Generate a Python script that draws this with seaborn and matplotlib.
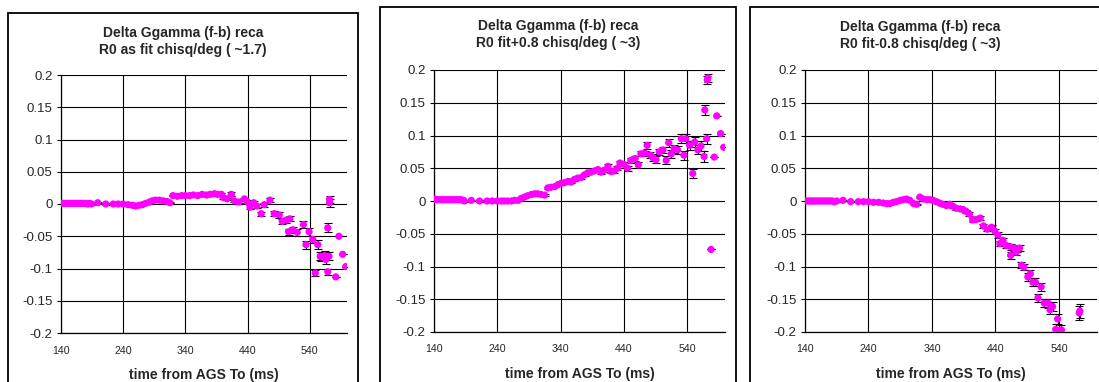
import matplotlib
matplotlib.use("Agg")
import matplotlib.pyplot as plt
from matplotlib.patches import Rectangle
import seaborn as sns

# ---------------- data ----------------
titles = ["Delta Ggamma (f-b) reca\nR0 as fit chisq/deg ( ~1.7)",
          "Delta Ggamma (f-b) reca\nR0 fit+0.8 chisq/deg ( ~3)",
          "Delta Ggamma (f-b) reca\nR0 fit-0.8 chisq/deg ( ~3)"]
xlabel = "time from AGS To (ms)"
xticks = [140, 240, 340, 440, 540]
yticks = [-0.2, -0.15, -0.1, -0.05, 0, 0.05, 0.1, 0.15, 0.2]
ytick_labels = ["-0.2", "-0.15", "-0.1", "-0.05", "0", "0.05", "0.1", "0.15", "0.2"]

x1 = [141, 144, 147, 150, 153, 156, 159, 162, 165, 168, 171, 174, 177, 180, 183, 186, 189,
      199, 212, 224, 232, 240, 248, 255, 260, 266, 271, 276, 282, 287, 292, 298, 304, 310, 315,
      320, 327, 334, 340, 347, 353, 360, 367, 374, 380, 387, 392, 398, 401, 407, 414, 419, 426,
      435, 439, 444, 450, 455, 462, 467, 476, 483, 491, 496, 502, 508, 506, 513, 520, 530, 534,
      539, 545, 553, 558, 564, 569, 572, 572, 587, 593,
      549, 557, 569, 571, 566, 582, 598]
y1 = [0.001, 0.001, 0.001, 0.001, 0.001, 0.001, 0.001, 0.001, 0.001, 0.001, 0.001, 0.001, 0.001, 0.001, 0.000, 0.001, 0.000,
      0.002, 0.000, 0.000, 0.000, 0.000, -0.001, -0.002, -0.003, -0.002, -0.001, 0.001, 0.003, 0.005, 0.006, 0.006, 0.005, 0.004, 0.002,
      0.013, 0.012, 0.013, 0.013, 0.013, 0.014, 0.013, 0.015, 0.014, 0.015, 0.016, 0.015, 0.015, 0.010, 0.008, 0.015, 0.005, 0.003,
      0.008, 0.004, -0.005, 0.002, -0.003, -0.015, -0.001, 0.006, -0.015, -0.017, -0.027, -0.025, -0.023, -0.043, -0.040, -0.044, -0.032, -0.063,
      -0.043, -0.055, -0.063, -0.082, -0.080, -0.037, 0.007, 0.002, -0.050, -0.078,
      -0.107, -0.081, -0.105, -0.081, -0.086, -0.113, -0.097]
e1 = [0.001, 0.001, 0.001, 0.001, 0.001, 0.001, 0.001, 0.001, 0.001, 0.001, 0.001, 0.001, 0.001, 0.001, 0.001, 0.001, 0.001,
      0.001, 0.001, 0.001, 0.001, 0.001, 0.001, 0.001, 0.001, 0.001, 0.001, 0.001, 0.001, 0.001, 0.001, 0.001, 0.001, 0.001, 0.001,
      0.001, 0.001, 0.001, 0.001, 0.001, 0.001, 0.001, 0.002, 0.002, 0.002, 0.002, 0.002, 0.002, 0.002, 0.002, 0.003, 0.002, 0.002,
      0.002, 0.002, 0.003, 0.003, 0.003, 0.003, 0.003, 0.003, 0.004, 0.004, 0.004, 0.004, 0.004, 0.005, 0.005, 0.005, 0.005, 0.006,
      0.006, 0.006, 0.007, 0.007, 0.007, 0.007, 0.006, 0.006, 0.000, 0.000,
      0.005, 0.006, 0.005, 0.006, 0.007, 0.000, 0.000]

x2 = [141, 144, 147, 150, 153, 156, 159, 162, 165, 168, 171, 174, 177, 180, 183, 186, 188,
      199, 212, 224, 232, 240, 246, 251, 256, 262, 267, 273, 278, 283, 288, 294, 299, 304, 309, 315,
      320, 325, 331, 336, 341, 346, 352, 357, 362, 367, 373, 378, 383, 388, 394, 399, 404, 409, 415,
      420, 425, 430, 434, 440, 446, 451, 458, 463, 467, 473, 477, 482, 486, 491, 496, 502, 507, 511,
      515, 520, 525, 531, 535, 538, 544, 549, 552, 557, 562, 567, 571, 578, 583, 593, 598,
      572, 573, 568, 587]
y2 = [0.003, 0.002, 0.002, 0.002, 0.002, 0.002, 0.002, 0.002, 0.002, 0.002, 0.002, 0.002, 0.002, 0.002, 0.002, 0.001, 0.000,
      0.001, 0.000, 0.000, 0.000, 0.000, 0.000, 0.000, 0.000, 0.000, 0.001, 0.001, 0.004, 0.006, 0.008, 0.010, 0.011, 0.011, 0.010, 0.009,
      0.020, 0.021, 0.022, 0.025, 0.027, 0.028, 0.030, 0.029, 0.033, 0.035, 0.036, 0.040, 0.043, 0.044, 0.046, 0.048, 0.044, 0.047, 0.053,
      0.045, 0.046, 0.050, 0.058, 0.056, 0.050, 0.062, 0.065, 0.055, 0.072, 0.073, 0.085, 0.070, 0.066, 0.063, 0.075, 0.078, 0.062, 0.089,
      0.072, 0.080, 0.078, 0.095, 0.070, 0.095, 0.085, 0.042, 0.090, 0.078, 0.084, 0.068, 0.095, -0.074, 0.067, 0.103, 0.082,
      0.185, 0.188, 0.139, 0.130]
e2 = [0.001, 0.001, 0.001, 0.001, 0.001, 0.001, 0.001, 0.001, 0.001, 0.001, 0.001, 0.001, 0.001, 0.001, 0.001, 0.001, 0.001,
      0.001, 0.001, 0.001, 0.001, 0.001, 0.001, 0.001, 0.001, 0.001, 0.001, 0.001, 0.001, 0.001, 0.001, 0.001, 0.001, 0.001, 0.001, 0.001,
      0.001, 0.001, 0.001, 0.001, 0.002, 0.002, 0.002, 0.002, 0.002, 0.002, 0.002, 0.002, 0.002, 0.002, 0.002, 0.003, 0.003, 0.003, 0.003,
      0.003, 0.003, 0.003, 0.003, 0.003, 0.004, 0.004, 0.004, 0.004, 0.004, 0.004, 0.005, 0.005, 0.005, 0.005, 0.005, 0.005, 0.006, 0.006,
      0.006, 0.006, 0.006, 0.007, 0.007, 0.007, 0.007, 0.007, 0.007, 0.007, 0.008, 0.008, 0.008, 0.000, 0.000, 0.000, 0.000,
      0.006, 0.006, 0.007, 0.000]

x3 = [141, 144, 147, 150, 153, 156, 159, 162, 165, 168, 171, 174, 177, 180, 183, 186, 190,
      200, 212, 224, 232, 240, 248, 256, 263, 269, 274, 279, 284, 290, 295, 300, 305, 311, 316,
      321, 326, 332, 337, 342, 347, 352, 357, 363, 368, 373, 378, 384, 389, 394, 399, 404, 410,
      416, 421, 427, 434, 439, 444, 447, 452, 457, 464, 469, 474, 478, 464, 473, 481, 485, 491,
      495, 499, 503, 512, 507, 517, 523, 526, 530, 538, 535, 544, 572, 573]
y3 = [0.000, 0.000, 0.000, 0.000, 0.000, 0.000, 0.000, 0.000, 0.000, 0.000, 0.000, 0.000, 0.000, 0.000, 0.000, -0.001, 0.000,
      0.001, -0.001, -0.001, -0.001, -0.001, -0.002, -0.002, -0.003, -0.004, -0.004, -0.002, -0.001, 0.001, 0.002, 0.003, 0.001, -0.004, -0.005,
      0.006, 0.003, 0.002, 0.002, 0.001, -0.001, -0.003, -0.005, -0.007, -0.005, -0.008, -0.011, -0.012, -0.013, -0.016, -0.020, -0.029, -0.028,
      -0.026, -0.038, -0.043, -0.040, -0.046, -0.052, -0.065, -0.060, -0.068, -0.070, -0.072, -0.073, -0.072, -0.083, -0.078, -0.098, -0.101, -0.116,
      -0.111, -0.124, -0.124, -0.131, -0.148, -0.156, -0.156, -0.166, -0.161, -0.180, -0.196, -0.197, -0.171, -0.168]
e3 = [0.001, 0.001, 0.001, 0.001, 0.001, 0.001, 0.001, 0.001, 0.001, 0.001, 0.001, 0.001, 0.001, 0.001, 0.001, 0.001, 0.001,
      0.001, 0.001, 0.001, 0.001, 0.001, 0.001, 0.001, 0.001, 0.001, 0.001, 0.001, 0.001, 0.001, 0.001, 0.001, 0.001, 0.001, 0.001,
      0.001, 0.001, 0.001, 0.001, 0.001, 0.002, 0.002, 0.002, 0.002, 0.002, 0.002, 0.002, 0.002, 0.002, 0.003, 0.003, 0.003, 0.003,
      0.003, 0.003, 0.003, 0.004, 0.004, 0.004, 0.004, 0.004, 0.004, 0.005, 0.005, 0.005, 0.005, 0.005, 0.005, 0.005, 0.005, 0.006,
      0.006, 0.006, 0.006, 0.006, 0.006, 0.006, 0.007, 0.007, 0.007, 0.008, 0.008, 0.008, 0.010, 0.010]

series = [(x1, y1, e1), (x2, y2, e2), (x3, y3, e3)]

# ---------------- figure ----------------
sns.set_style("white")
plt.rcParams["font.family"] = ["Liberation Sans", "DejaVu Sans"]

W, H = 1099, 382
fig = plt.figure(figsize=(W / 100, H / 100), dpi=100)

# axes rectangles in pixels: left, right, top, bottom
ax_px = [(61, 347, 75, 333), (434, 725, 70, 332), (805, 1097, 70, 332)]
# outer panel boxes: left, right, top
box_px = [(8, 358, 13), (380, 736, 7), (750, 1110, 7)]
title_px = [(183, 33), (558, 26), (920, 27)]

for i, ((x, y, e), title) in enumerate(zip(series, titles)):
    l, r, t, b = ax_px[i]
    ax = fig.add_axes([l / W, 1 - b / H, (r - l) / W, (b - t) / H])
    bl, br, bt = box_px[i]
    fig.patches.append(Rectangle((bl / W, -0.05), (br - bl) / W, 1 - bt / H + 0.05,
                                 transform=fig.transFigure, fill=False,
                                 edgecolor="black", linewidth=1.3, zorder=0))
    ax.errorbar(x, y, yerr=e, fmt="none", ecolor="black", elinewidth=0.8,
                capsize=2.8, capthick=0.8, zorder=2)
    sns.scatterplot(x=x, y=y, ax=ax, color="#ff00ff", s=27, edgecolor="none",
                    linewidth=0, zorder=3, legend=False)
    ax.set_xlim(140, 600)
    ax.set_ylim(-0.2, 0.2)
    ax.set_xticks(xticks)
    ax.set_xticklabels([str(v) for v in xticks], fontsize=7.7)
    ax.set_yticks(yticks)
    ax.set_yticklabels(ytick_labels, fontsize=9.5)
    ax.tick_params(axis="y", length=3, width=0.8, pad=3, left=True, color="black")
    ax.tick_params(axis="x", length=0, pad=9)
    ax.grid(True, color="black", linewidth=0.8)
    ax.set_axisbelow(True)
    for s in ["top", "right"]:
        ax.spines[s].set_visible(False)
    for s in ["left", "bottom"]:
        ax.spines[s].set_color("black")
        ax.spines[s].set_linewidth(0.9)
    ax.set_xlabel(xlabel, fontsize=10, fontweight="bold", labelpad=9)
    ax.set_ylabel("")
    tx, ty = title_px[i]
    fig.text(tx / W, 1 - ty / H, title.split("\n")[0], ha="center", va="center",
             fontsize=10, fontweight="bold")
    fig.text(tx / W, 1 - (ty + 17) / H, title.split("\n")[1], ha="center", va="center",
             fontsize=10, fontweight="bold")

fig.savefig("out.png", dpi=100)
